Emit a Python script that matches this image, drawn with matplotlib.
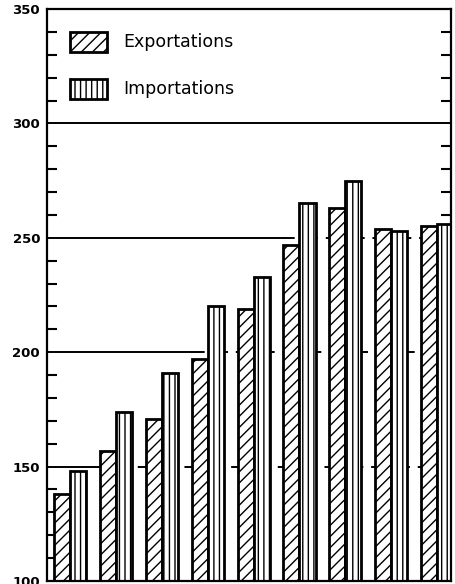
import matplotlib.pyplot as plt
import matplotlib.patches as mpatches
import numpy as np

# valeurs (indice)
exportations = [138, 157, 171, 197, 219, 247, 263, 254, 255]
importations = [148, 174, 191, 220, 233, 265, 275, 253, 256]
legende = ['Exportations', 'Importations']
grille = [150, 200, 250, 300]
# fin du trait plein de chaque ligne de grille (position de groupe)
fin_plein = [0.54, 2.68, 4.64, 9.0]

plt.rcParams['hatch.linewidth'] = 1.0

fig = plt.figure(figsize=(4.56, 5.84), dpi=100)
ax = fig.add_axes([47/456, 3/584, 404/456, 572/584])

x = np.arange(len(exportations))
w = 0.35

for g, f in zip(grille, fin_plein):
    ax.plot([-1, f], [g, g], color='black', lw=1.4, zorder=1)
    ax.plot([f, 9], [g, g], color='black', lw=1.4, ls=(2, (8, 4)), zorder=1)

ax.bar(x - w, exportations, w, align='edge', color='white',
       edgecolor='black', hatch='///', linewidth=2, zorder=2)
ax.bar(x, importations, w, align='edge', color='white',
       edgecolor='black', hatch='|||', linewidth=2, zorder=2)

ax.set_xlim(-0.5, 8.3)
ax.set_ylim(100, 350)
ax.set_yticks([100, 150, 200, 250, 300, 350])
ax.set_yticks(np.arange(100, 351, 10), minor=True)
ax.tick_params(axis='y', which='both', direction='in', right=True,
               length=7, width=1.5, labelsize=9.5, pad=5)
ax.tick_params(axis='y', which='major', length=0)
for t in ax.get_yticklabels():
    t.set_fontweight('bold')
ax.set_xticks([])
for s in ax.spines.values():
    s.set_linewidth(1.6)

# légende dessinée à la main
hatches = ['///', '|||']
for i, (lab, h) in enumerate(zip(legende, hatches)):
    y0 = 1 - (52 + i * 47 - 9) / 572
    ax.add_patch(mpatches.Rectangle((23/404, y0), 37/404, 20/572,
                 transform=ax.transAxes, facecolor='white', edgecolor='black',
                 hatch=h, linewidth=2, zorder=5))
    ax.text(76/404, y0 + 10/572, lab, transform=ax.transAxes, fontsize=12.5,
            va='center', ha='left', zorder=5)

fig.text(60/456, 1 - 3/584, 'Source : FMI', fontsize=9, va='bottom')

fig.savefig('out.png', dpi=100)
